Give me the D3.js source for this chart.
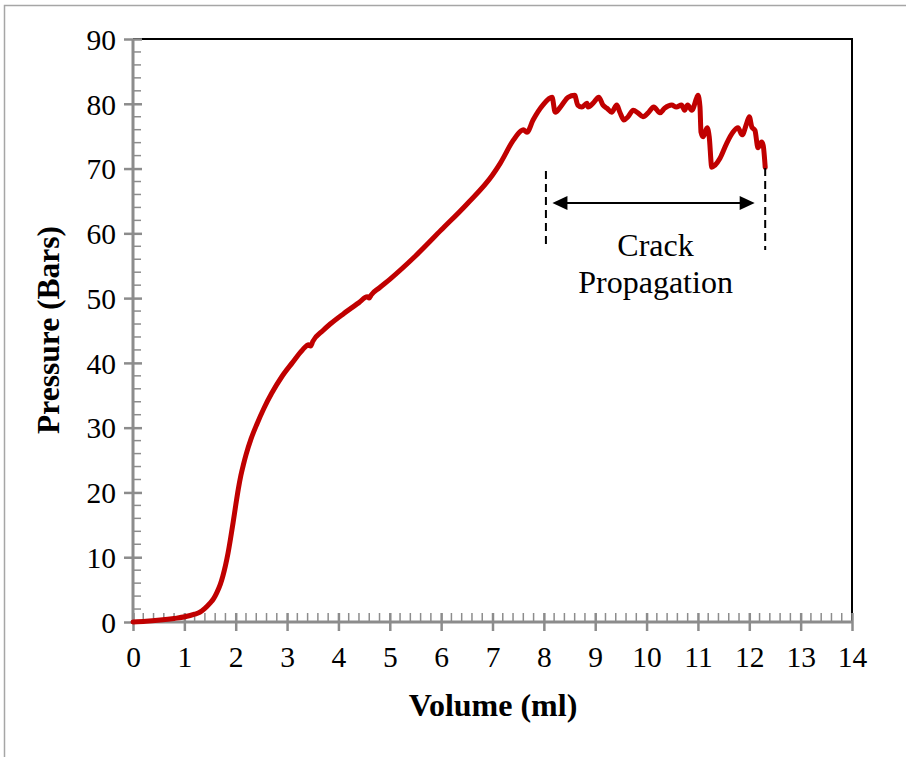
<!DOCTYPE html>
<html><head><meta charset="utf-8">
<script src="https://cdn.jsdelivr.net/npm/d3@7"></script>
<style>html,body{margin:0;padding:0;background:#fff;}svg{display:block;}</style>
</head><body>
<script>
const volume = [0,0.25,0.53,0.8,1.01,1.2,1.3,1.4,1.5,1.57,1.63,1.7,1.75,1.8,1.85,1.9,1.95,2.0,2.05,2.1,2.15,2.2,2.3,2.41,2.55,2.7,2.9,3.1,3.3,3.42,3.46,3.5,3.7,3.84,4.1,4.4,4.56,4.6,4.64,4.8,5.0,5.5,6.0,6.5,7.0,7.15,7.4,7.55,7.6,7.67,7.79,7.98,8.16,8.22,8.35,8.47,8.6,8.66,8.74,8.84,8.86,8.96,9.07,9.15,9.23,9.32,9.42,9.48,9.56,9.64,9.74,9.83,9.93,10.03,10.14,10.26,10.35,10.49,10.58,10.68,10.74,10.8,10.88,10.98,11.0,11.04,11.06,11.1,11.18,11.22,11.27,11.33,11.43,11.56,11.68,11.78,11.86,11.95,12.0,12.05,12.11,12.17,12.24,12.27,12.31];
const pressure = [0,0.1,0.3,0.55,0.8,1.2,1.5,2.1,2.9,3.6,4.5,5.8,7.1,8.7,10.6,12.9,15.4,18,20.5,22.6,24.3,25.8,28.3,30.5,33,35.3,37.9,40,42,42.8,42.6,43.3,45,46,47.6,49.3,50.2,50.0,50.5,51.6,52.9,56.5,60.5,64.5,69,70.8,74.3,75.8,76.0,75.6,77.5,79.8,81.0,78.7,79.8,81.0,81.3,79.8,79.5,80.1,79.5,80.1,81.0,79.8,79.3,78.7,79.8,78.7,77.5,78.0,79.0,78.6,78.0,78.6,79.5,78.6,79.3,79.8,79.5,79.8,79.0,79.8,79.0,81.0,81.3,79.5,75.6,74.9,76.3,74.9,70.2,70.5,71.6,73.9,75.6,76.3,75.2,77.0,78.0,76.4,75.9,73.2,74.1,73.6,70.2];
const xTicks = [0,1,2,3,4,5,6,7,8,9,10,11,12,13,14];
const yTicks = [0,10,20,30,40,50,60,70,80,90];
const xTitle = "Volume (ml)";
const yTitle = "Pressure (Bars)";
const annotLines = ["Crack","Propagation"];
const crackStart = 8.05, crackEnd = 12.3, arrowLevel = 64.7;

const W = 906, H = 757;
const svg = d3.select("body").append("svg").attr("width", W).attr("height", H);
svg.append("rect").attr("width", W).attr("height", H).attr("fill", "#fff");
// outer frame
svg.append("path").attr("d", `M4.5,${H} L4.5,5.5 L${W},5.5`).attr("fill","none").attr("stroke","#a6a6a6").attr("stroke-width",1.5);

const x = d3.scaleLinear().domain([0,14]).range([133,852]);
const y = d3.scaleLinear().domain([0,90]).range([622,39]);
const font = "'Liberation Serif','Times New Roman',serif";

// top and right border
svg.append("path").attr("d", `M${x(0)},${y(90)} L${x(14)},${y(90)} L${x(14)},${y(0)}`).attr("fill","none").attr("stroke","#000").attr("stroke-width",2);

const axisCol = "#8c8c8c";
// minor ticks
const xMinor = d3.range(0, 70).map(i => i*0.2).filter(v => Math.abs(v - Math.round(v)) > 1e-6);
svg.append("g").selectAll("line").data(xMinor).join("line")
  .attr("x1", d=>x(d)).attr("x2", d=>x(d)).attr("y1", y(0)).attr("y2", y(0)-9)
  .attr("stroke", axisCol).attr("stroke-width", 1.5);
const yMinor = d3.range(0, 45).map(i => i*2).filter(v => v % 10 !== 0);
svg.append("g").selectAll("line").data(yMinor).join("line")
  .attr("x1", x(0)).attr("x2", x(0)+8).attr("y1", d=>y(d)).attr("y2", d=>y(d))
  .attr("stroke", axisCol).attr("stroke-width", 1.5);

// major axes
const xAxis = svg.append("g").attr("transform", `translate(0,${y(0)})`)
  .call(d3.axisBottom(x).tickValues(xTicks).tickSize(9).tickPadding(15).tickFormat(d3.format("d")));
const yAxis = svg.append("g").attr("transform", `translate(${x(0)},0)`)
  .call(d3.axisLeft(y).tickValues(yTicks).tickSize(9).tickPadding(8).tickFormat(d3.format("d")));
[xAxis, yAxis].forEach(g => {
  g.select(".domain").attr("stroke", axisCol).attr("stroke-width", 3);
  g.selectAll(".tick line").attr("stroke", axisCol).attr("stroke-width", 2.5);
  g.selectAll(".tick text").attr("fill","#000").style("font-family", font).style("font-size","29.5px");
});
xAxis.selectAll(".tick line").attr("y1", -9);
yAxis.selectAll(".tick line").attr("x1", 9);
xAxis.selectAll(".tick text").attr("dy","0.71em");
yAxis.selectAll(".tick text").attr("dy","0.35em");
xAxis.select(".domain").attr("d", `M${x(0)},0H${x(14)}`);
yAxis.select(".domain").attr("d", `M0,${y(0)}V${y(90)}`);

// titles
svg.append("text").attr("x", 493).attr("y", 716).attr("text-anchor","middle")
  .style("font-family", font).style("font-size","32px").style("font-weight","bold").text(xTitle);
svg.append("text").attr("transform", "translate(59,330) rotate(-90)").attr("text-anchor","middle")
  .style("font-family", font).style("font-size","31.5px").style("font-weight","bold").text(yTitle);

// curve
const pts = volume.map((v,i)=>[v, pressure[i]]);
svg.append("path").datum(pts)
  .attr("d", d3.line().x(d=>x(d[0])).y(d=>y(d[1])).curve(d3.curveMonotoneX))
  .attr("fill","none").attr("stroke","#c00000").attr("stroke-width",5)
  .attr("stroke-linejoin","round").attr("stroke-linecap","round");

// annotation
const ann = svg.append("g");
ann.append("line").attr("x1", x(crackStart)-0.5).attr("x2", x(crackStart)-0.5).attr("y1",171).attr("y2",247)
  .attr("stroke","#000").attr("stroke-width",2).attr("stroke-dasharray","8,5");
ann.append("line").attr("x1", x(crackEnd)+0.5).attr("x2", x(crackEnd)+0.5).attr("y1",168).attr("y2",250)
  .attr("stroke","#000").attr("stroke-width",2).attr("stroke-dasharray","8,5");
const ay = y(arrowLevel);
const ax1 = x(crackStart)+6, ax2 = x(crackEnd)-10;
ann.append("line").attr("x1", ax1+10).attr("x2", ax2-10).attr("y1", ay).attr("y2", ay).attr("stroke","#000").attr("stroke-width",2);
ann.append("path").attr("d", `M${ax1},${ay} L${ax1+15},${ay-7} L${ax1+15},${ay+7} Z`).attr("fill","#000");
ann.append("path").attr("d", `M${ax2},${ay} L${ax2-15},${ay-7} L${ax2-15},${ay+7} Z`).attr("fill","#000");
const cx = (ax1+ax2)/2 + 2;
annotLines.forEach((t,i)=>{
  ann.append("text").attr("x", cx).attr("y", 256 + i*37).attr("text-anchor","middle")
    .style("font-family", font).style("font-size","32px").text(t);
});
</script>
</body></html>
